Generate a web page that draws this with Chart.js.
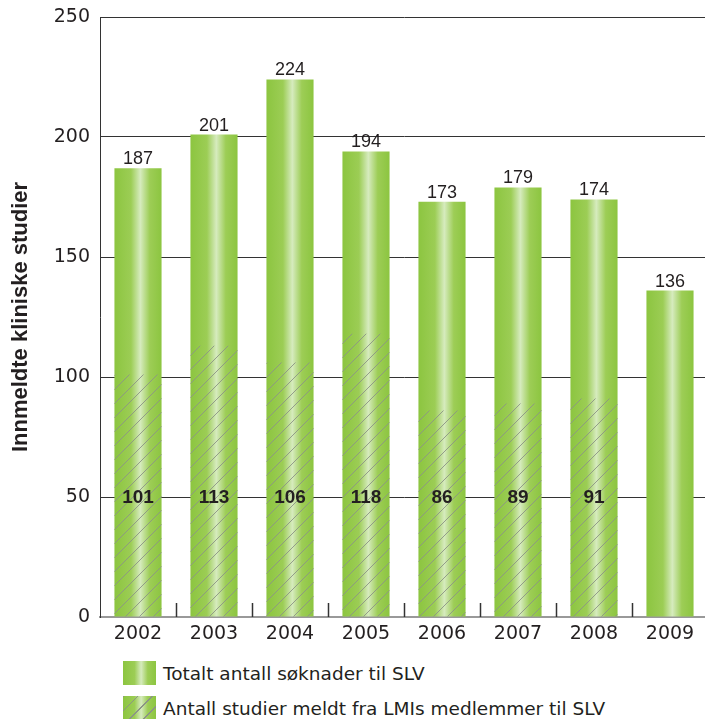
<!doctype html>
<html>
<head>
    <title>Innmeldte kliniske studier</title>
    <script src="https://cdn.jsdelivr.net/npm/chart.js"></script>
    <style>
        body { margin: 0; background: #fff; overflow: hidden; font-family: 'DejaVu Sans', sans-serif; }
        .wrap { position: relative; width: 708px; height: 645px; }
        .legend { position: absolute; left: 123px; top: 661px; color: #231f20; font-size: 18.5px; }
        .legend .row { display: flex; align-items: center; height: 24px; margin-bottom: 11px; white-space: nowrap; }
        .legend .box { width: 33px; height: 24px; margin-right: 7px; }
        .fill { background: linear-gradient(90deg, #8cc540 0%, #9ccd55 35%, #d6ebbe 55%, #9dcd56 75%, #8cc540 100%); }
        .hatch { background: repeating-linear-gradient(-45deg, transparent 0 9px, #8c9486 9px 10px), linear-gradient(90deg, #8cc540 0%, #9ccd55 35%, #d6ebbe 55%, #9dcd56 75%, #8cc540 100%); }
    </style>
</head>
<body>
    <div class="wrap">
        <canvas id="studier"></canvas>
    </div>
    <div class="legend">
        <div class="row"><div class="box fill"></div>Totalt antall søknader til SLV</div>
        <div class="row"><div class="box hatch"></div>Antall studier meldt fra LMIs medlemmer til SLV</div>
    </div>

    <script>
        var aar = ['2002', '2003', '2004', '2005', '2006', '2007', '2008', '2009']
        var totalt = [187, 201, 224, 194, 173, 179, 174, 136]
        var lmi = [101, 113, 106, 118, 86, 89, 91, null]
        var yTicks = [0, 50, 100, 150, 200, 250]

        var barAndel = 0.62

        function gradient(context) {
            var chart = context.chart
            var x = chart.scales.x
            if (!x || context.dataIndex === undefined) return '#8cc540'
            var c = x.getPixelForValue(context.dataIndex)
            var half = x.width / aar.length * barAndel / 2
            if (!isFinite(c) || !isFinite(half) || half <= 0) return '#8cc540'
            var g = chart.ctx.createLinearGradient(c - half, 0, c + half, 0)
            g.addColorStop(0, '#8cc540')
            g.addColorStop(0.35, '#9ccd55')
            g.addColorStop(0.55, '#d6ebbe')
            g.addColorStop(0.75, '#9dcd56')
            g.addColorStop(1, '#8cc540')
            return g
        }

        // diagonal strek-monster
        var tile = document.createElement('canvas')
        tile.width = 14
        tile.height = 14
        var t = tile.getContext('2d')
        t.strokeStyle = '#8c9486'
        t.lineWidth = 0.9
        t.beginPath()
        t.moveTo(-2, 16); t.lineTo(16, -2)
        t.moveTo(-2, 2); t.lineTo(2, -2)
        t.moveTo(12, 16); t.lineTo(16, 12)
        t.stroke()
        var hatch = tile.getContext('2d').createPattern(tile, 'repeat')

        var etiketter = {
            id: 'etiketter',
            afterDatasetsDraw(chart) {
                var ctx = chart.ctx
                var x = chart.scales.x
                var y = chart.scales.y
                ctx.save()
                // små streker mellom kategoriene
                ctx.strokeStyle = '#333'
                ctx.lineWidth = 1.5
                for (var i = 1; i < aar.length; i++) {
                    var px = Math.round((x.getPixelForValue(i - 1) + x.getPixelForValue(i)) / 2) + 0.5
                    ctx.beginPath()
                    ctx.moveTo(px, y.bottom)
                    ctx.lineTo(px, y.bottom - 14)
                    ctx.stroke()
                }
                ctx.fillStyle = '#231f20'
                ctx.textAlign = 'center'
                ctx.textBaseline = 'alphabetic'
                ctx.font = '18px "Liberation Sans", Arial, sans-serif'
                var meta = chart.getDatasetMeta(0)
                meta.data.forEach(function (bar, i) {
                    ctx.fillText(totalt[i], bar.x, bar.y - 4)
                })
                ctx.textBaseline = 'middle'
                ctx.font = 'bold 19px "Liberation Sans", Arial, sans-serif'
                var meta2 = chart.getDatasetMeta(1)
                meta2.data.forEach(function (bar, i) {
                    if (lmi[i] == null) return
                    ctx.fillText(lmi[i], bar.x, y.getPixelForValue(50) + 1)
                })
                ctx.restore()
            }
        }

        var studier = new Chart(document.getElementById('studier').getContext('2d'), {
            type: 'bar',
            data: {
                labels: aar,
                datasets: [{
                    label: 'Totalt antall søknader til SLV',
                    data: totalt,
                    backgroundColor: gradient,
                    grouped: false,
                    order: 2,
                    categoryPercentage: 1,
                    barPercentage: barAndel
                }, {
                    label: 'Antall studier meldt fra LMIs medlemmer til SLV',
                    data: lmi,
                    backgroundColor: hatch,
                    grouped: false,
                    order: 1,
                    categoryPercentage: 1,
                    barPercentage: barAndel
                }]
            },
            options: {
                responsive: true,
                maintainAspectRatio: false,
                animation: false,
                layout: { padding: { top: 17, bottom: 0, left: 0, right: 0 } },
                plugins: {
                    legend: { display: false },
                    tooltip: { enabled: false }
                },
                scales: {
                    x: {
                        afterFit: function (s) { s.height = 28; s.paddingLeft = 0; s.paddingRight = 0 },
                        grid: { display: false },
                        border: { display: true, color: '#999', width: 2 },
                        ticks: {
                            color: '#231f20',
                            padding: -2,
                            font: { size: 19, family: '"DejaVu Sans", sans-serif' }
                        }
                    },
                    y: {
                        min: 0,
                        max: 250,
                        afterBuildTicks: function (s) { s.ticks = yTicks.map(function (v) { return { value: v } }) },
                        afterFit: function (s) { s.width = 100; s.paddingTop = 0; s.paddingBottom = 0 },
                        grid: {
                            drawTicks: false,
                            color: function (c) { return c.tick && c.tick.value === 0 ? 'rgba(0,0,0,0)' : '#333' }
                        },
                        border: { display: true, color: '#333', width: 1 },
                        ticks: {
                            color: '#231f20',
                            padding: 10,
                            font: { size: 19, family: '"DejaVu Sans", sans-serif' }
                        },
                        title: {
                            display: true,
                            text: 'Innmeldte kliniske studier',
                            color: '#231f20',
                            padding: { top: 8, bottom: 0 },
                            font: { size: 22, weight: 'bold', family: '"Liberation Sans", Arial, sans-serif' }
                        }
                    }
                }
            },
            plugins: [etiketter]
        });
    </script>
</body>
</html>
